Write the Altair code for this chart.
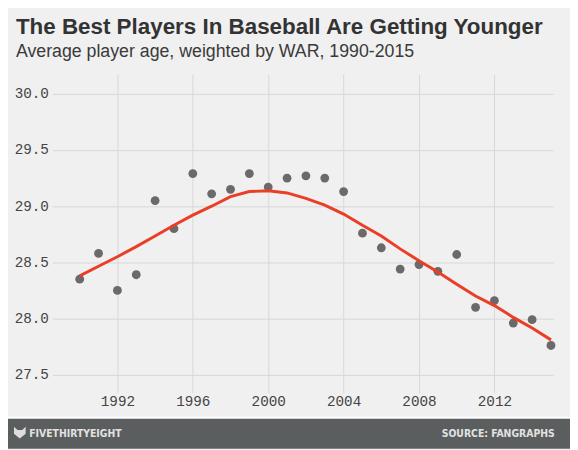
import altair as alt
import pandas as pd

years = list(range(1990, 2016))
age = [28.35, 28.58, 28.25, 28.39, 29.05, 28.80, 29.29, 29.11, 29.15, 29.29,
       29.17, 29.25, 29.27, 29.25, 29.13, 28.76, 28.63, 28.44, 28.48, 28.42,
       28.57, 28.10, 28.16, 27.96, 27.99, 27.76]
trend = [28.38, 28.465, 28.55, 28.64, 28.735, 28.83, 28.92, 29.00, 29.085, 29.13,
         29.138, 29.118, 29.07, 29.01, 28.93, 28.83, 28.735, 28.62, 28.515, 28.415,
         28.305, 28.20, 28.115, 28.01, 27.915, 27.81]
x_ticks = [1992, 1996, 2000, 2004, 2008, 2012]
y_ticks = [27.5, 28.0, 28.5, 29.0, 29.5, 30.0]
title_text = "The Best Players In Baseball Are Getting Younger"
subtitle_text = "Average player age, weighted by WAR, 1990-2015"
footer_left = "FIVETHIRTYEIGHT"
footer_right = "SOURCE: FANGRAPHS"

df = pd.DataFrame({"year": years, "age": age, "trend": trend})

W, H = 508, 323
MONO = "Liberation Mono"
COND = "DejaVu Sans Condensed, Roboto, sans-serif"

xscale = alt.Scale(domain=[1988.55, 2015.12], nice=False, zero=False)
yscale = alt.Scale(domain=[27.34, 30.175], nice=False, zero=False)

xaxis = alt.Axis(values=x_ticks, format="d", title=None, grid=True, gridColor="#d7d7d7",
                 domain=False, ticks=False, labelFont=MONO, labelFontSize=14.5,
                 labelColor="#444444", labelPadding=2)
yaxis = alt.Axis(values=y_ticks, format=".1f", title=None, grid=True, gridColor="#d7d7d7",
                 domain=False, ticks=False, labelFont=MONO, labelFontSize=14.5,
                 labelColor="#444444", labelPadding=4)

base = alt.Chart(df)

points = base.mark_circle(size=80, color="#6a6a6a", opacity=1).encode(
    x=alt.X("year:Q", scale=xscale, axis=xaxis),
    y=alt.Y("age:Q", scale=yscale, axis=yaxis),
)

line = base.mark_line(color="#ea3e26", strokeWidth=3).encode(
    x=alt.X("year:Q", scale=xscale),
    y=alt.Y("trend:Q", scale=yscale),
)

footer_df = pd.DataFrame({"left": [footer_left], "right": [footer_right]})
fbase = alt.Chart(footer_df)

band_line = fbase.mark_rect(color="#ffffff").encode(
    x=alt.value(-50), x2=alt.value(W + 30), y=alt.value(347.5), y2=alt.value(349.5))
band = fbase.mark_rect(color="#5b5e5f").encode(
    x=alt.value(-50), x2=alt.value(W + 30), y=alt.value(349.5), y2=alt.value(380))
logo = fbase.mark_point(
    shape="M-1,-1 L-0.4,-0.45 L0.4,-0.45 L1,-1 L1,0.2 L0,1 L-1,0.2 Z",
    filled=True, color="#dddddd", size=140, opacity=1).encode(
    x=alt.value(-33), y=alt.value(363.5))
ftext_l = fbase.mark_text(align="left", baseline="alphabetic", font=COND,
                          fontSize=10.5, fontWeight="bold", color="#e2e2e2").encode(
    text="left:N", x=alt.value(-23.5), y=alt.value(368))
ftext_r = fbase.mark_text(align="right", baseline="alphabetic", font=COND,
                          fontSize=10.5, fontWeight="bold", color="#e2e2e2").encode(
    text="right:N", x=alt.value(509.5), y=alt.value(368))

chart = alt.layer(points, line, band_line, band, logo, ftext_l, ftext_r).properties(
    width=W, height=H,
    autosize=alt.AutoSizeParams(type="none"),
    padding={"left": 45, "top": 64, "right": 17, "bottom": 55},
    background="#f0f0f0",
    title=alt.TitleParams(
        text=title_text, subtitle=subtitle_text, anchor="start", frame="group",
        dx=-37, offset=13, font="Liberation Sans", fontSize=22.7, fontWeight="bold",
        color="#333333", subtitleFont="Liberation Sans", subtitleFontSize=18,
        subtitleColor="#3a3a3a", subtitlePadding=5,
    ),
).configure_view(stroke=None)

chart.save("out.html", embed_options={"renderer": "svg", "actions": False})
